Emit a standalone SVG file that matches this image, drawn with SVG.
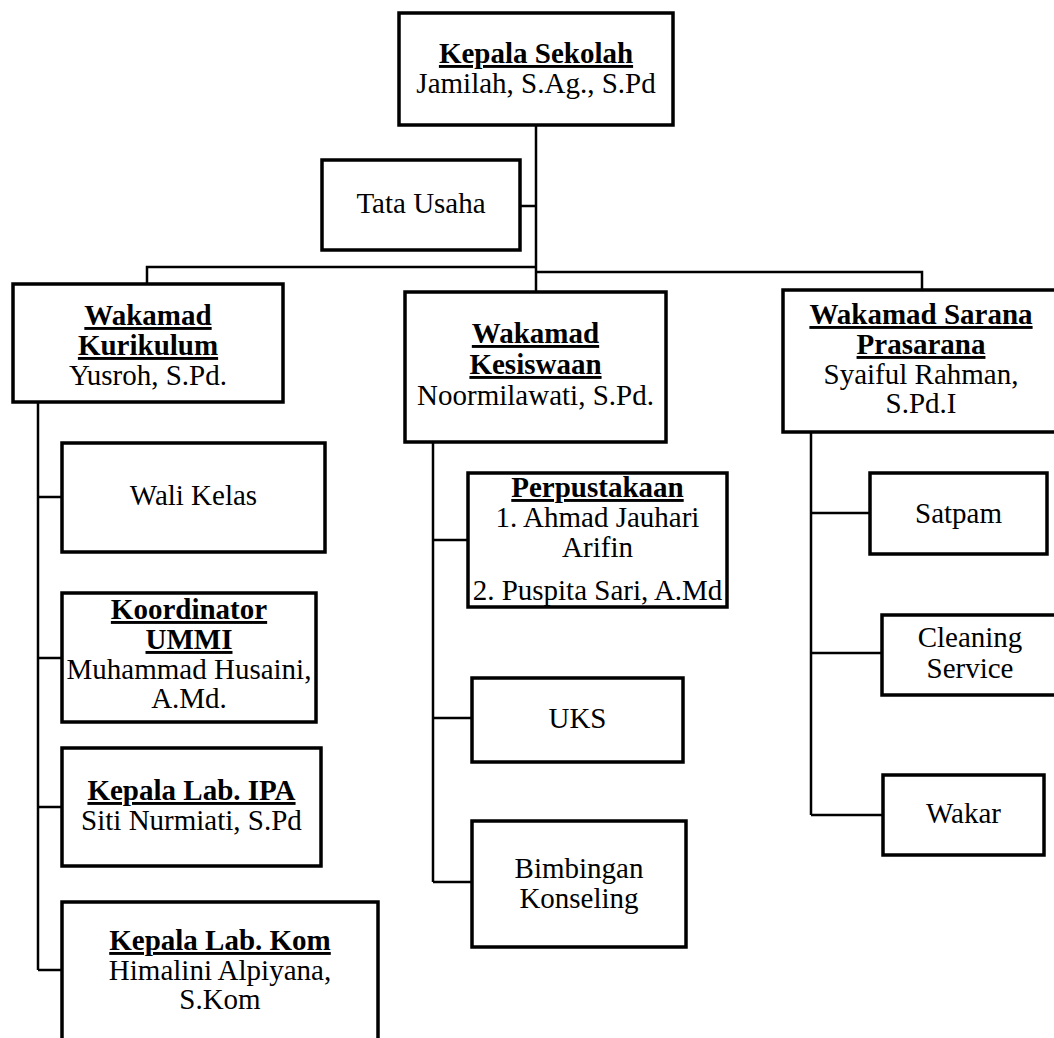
<svg xmlns="http://www.w3.org/2000/svg" width="1054" height="1038" viewBox="0 0 1054 1038">
<style>
.box{fill:#fff;stroke:#000;stroke-width:3.5}
.ln{fill:none;stroke:#000;stroke-width:2.5}
text{font-family:"Liberation Serif","Times New Roman",serif;font-size:29px;fill:#000;text-anchor:middle}
.b{font-weight:bold;text-decoration:underline}
</style>
<rect width="1054" height="1038" fill="#fff"/>
<g id="connectors">
<path class="ln" d="M536,125V292M520,206H536M147,284V267H536M536,272H922V290"/>
<path class="ln" d="M38,402V970M38,497H62M38,658H62M38,807H62M38,970H62"/>
<path class="ln" d="M433,442V882M433,540H468M433,718H472M433,882H472"/>
<path class="ln" d="M811,432V815M811,513H870M811,653H882M811,815H883"/>
</g>
<g id="kepala-sekolah">
<rect class="box" x="399" y="13" width="274" height="112"/>
<text x="536" y="63"><tspan class="b">Kepala Sekolah</tspan></text>
<text x="536" y="93">Jamilah, S.Ag., S.Pd</text>
</g>
<g id="tata-usaha">
<rect class="box" x="322" y="160" width="198" height="90"/>
<text x="421" y="213">Tata Usaha</text>
</g>
<g id="wakamad-kurikulum">
<rect class="box" x="13" y="284" width="270" height="118"/>
<text x="148" y="325"><tspan class="b">Wakamad</tspan></text>
<text x="148" y="355"><tspan class="b">Kurikulum</tspan></text>
<text x="148" y="385">Yusroh, S.Pd.</text>
</g>
<g id="wakamad-kesiswaan">
<rect class="box" x="405" y="292" width="261" height="150"/>
<text x="535.5" y="343"><tspan class="b">Wakamad</tspan></text>
<text x="535.5" y="374"><tspan class="b">Kesiswaan</tspan></text>
<text x="535.5" y="405">Noormilawati, S.Pd.</text>
</g>
<g id="wakamad-sarana">
<rect class="box" x="783" y="290" width="280" height="142"/>
<text x="921" y="324"><tspan class="b">Wakamad Sarana</tspan></text>
<text x="921" y="354"><tspan class="b">Prasarana</tspan></text>
<text x="921" y="384">Syaiful Rahman,</text>
<text x="921" y="413">S.Pd.I</text>
</g>
<g id="wali-kelas">
<rect class="box" x="62" y="443" width="263" height="109"/>
<text x="193.5" y="505">Wali Kelas</text>
</g>
<g id="koordinator-ummi">
<rect class="box" x="62" y="593" width="254" height="129"/>
<text x="189" y="619"><tspan class="b">Koordinator</tspan></text>
<text x="189" y="649"><tspan class="b">UMMI</tspan></text>
<text x="189" y="679">Muhammad Husaini,</text>
<text x="189" y="708">A.Md.</text>
</g>
<g id="lab-ipa">
<rect class="box" x="62" y="748" width="259" height="118"/>
<text x="191.5" y="800"><tspan class="b">Kepala Lab. IPA</tspan></text>
<text x="191.5" y="830">Siti Nurmiati, S.Pd</text>
</g>
<g id="lab-kom">
<rect class="box" x="62" y="902" width="316" height="150"/>
<text x="220" y="950"><tspan class="b">Kepala Lab. Kom</tspan></text>
<text x="220" y="980">Himalini Alpiyana,</text>
<text x="220" y="1009">S.Kom</text>
</g>
<g id="perpustakaan">
<rect class="box" x="468" y="473" width="259" height="134"/>
<text x="597.5" y="497"><tspan class="b">Perpustakaan</tspan></text>
<text x="597.5" y="527">1. Ahmad Jauhari</text>
<text x="597.5" y="557">Arifin</text>
<text x="597.5" y="600">2. Puspita Sari, A.Md</text>
</g>
<g id="uks">
<rect class="box" x="472" y="678" width="211" height="84"/>
<text x="577.5" y="728">UKS</text>
</g>
<g id="bimbingan-konseling">
<rect class="box" x="472" y="821" width="214" height="126"/>
<text x="579" y="878">Bimbingan</text>
<text x="579" y="908">Konseling</text>
</g>
<g id="satpam">
<rect class="box" x="870" y="473" width="177" height="81"/>
<text x="958.5" y="523">Satpam</text>
</g>
<g id="cleaning-service">
<rect class="box" x="882" y="615" width="176" height="80"/>
<text x="970" y="647">Cleaning</text>
<text x="970" y="678">Service</text>
</g>
<g id="wakar">
<rect class="box" x="883" y="775" width="161" height="80"/>
<text x="963.5" y="823">Wakar</text>
</g>
</svg>
